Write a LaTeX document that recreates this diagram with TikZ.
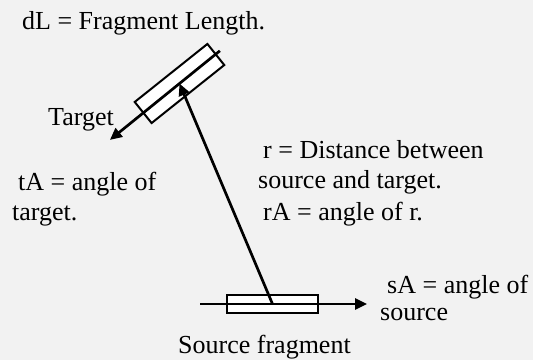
\documentclass[tikz,border=0pt]{standalone}
\usepackage{fontspec}
\setmainfont{Liberation Serif}
\usepackage{tikz}
\usetikzlibrary{arrows.meta,calc}
\definecolor{fragpaper}{HTML}{F2F2F2}
\definecolor{fragink}{HTML}{000000}

\begin{document}
\begin{tikzpicture}[
  x=1pt,y=-1pt,
  fragbox/.style={draw=fragink,fill=white,line width=2pt,inner sep=0pt},
  arr/.style={-{Triangle[length=12pt,width=11pt]},line width=2.7pt,fragink},
  lbl/.style={anchor=base west,inner sep=0pt,font=\rmfamily\fontsize{26}{31}\selectfont}
]
\fill[fragpaper] (0,0) rectangle (533,360);
\useasboundingbox (0,0) rectangle (533,360);

% fragments
\node[fragbox,minimum width=91pt,minimum height=18pt] (srcfrag) at (272.5,304) {};
\node[fragbox,rotate=38.6,minimum width=93pt,minimum height=27pt] (tgtfrag) at (179.5,83.5) {};

\coordinate (srcstart) at (200,304);
\coordinate (srctip) at (367,304);
\coordinate (tgtend) at (219.9,50.8);
\coordinate (tgttip) at (109.9,139.9);

\draw[arr] (srcstart) -- (srctip);
\draw[arr] (tgtend) -- (tgttip);
\draw[arr] (srcfrag.center) -- (tgtfrag.center);

% labels
\node[lbl] (dl) at (22,29) {dL = Fragment Length.};
\node[lbl] (tgtname) at (48,125) {Target};
\node[lbl] (ta1) at (18,190) {tA = angle of};
\node[lbl] (ta2) at (12,220) {target.};
\node[lbl] (r1) at (263,158) {r = Distance between};
\node[lbl] (r2) at (258,188) {source and target.};
\node[lbl] (ra) at (263,220) {rA = angle of r.};
\node[lbl] (sa1) at (387,293) {sA = angle of};
\node[lbl] (sa2) at (380,320) {source};
\node[lbl] (srcname) at (178,353) {Source fragment};
\end{tikzpicture}
\end{document}
